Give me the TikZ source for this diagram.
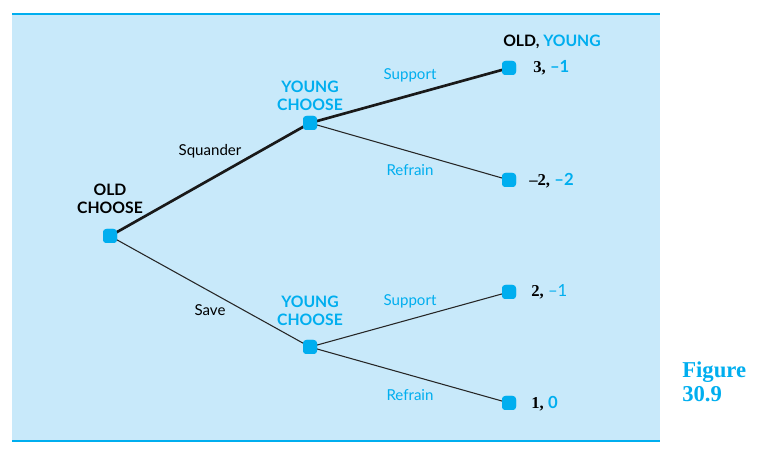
\documentclass[tikz,border=0pt]{standalone}
\usepackage{fontspec}
\setmainfont{Lato}
\newfontfamily\numfont{Liberation Serif}
\newfontfamily\figfont{Liberation Serif}
\definecolor{bgblue}{HTML}{C8E9FA}
\definecolor{cyanb}{HTML}{00AEEF}
\begin{document}
\begin{tikzpicture}[x=0.75pt,y=-0.75pt,
  dnode/.style={fill=cyanb,rounded corners=2.5pt,minimum width=10.5pt,minimum height=10.5pt,inner sep=0pt},
  lab/.style={font=\fontsize{11.3}{13}\selectfont,inner sep=0pt},
  head/.style={font=\fontsize{11.8}{13.5}\selectfont\bfseries,align=center,inner sep=0pt},
  pay/.style={font=\fontsize{12.5}{14}\selectfont,anchor=west,inner sep=0pt},
  strong/.style={line width=2pt,black!90},
  weak/.style={line width=0.8pt,black!85}]
\useasboundingbox (0,0) rectangle (758,456);
\fill[bgblue] (12,13) rectangle (660,442);
\draw[cyanb,line width=2.2pt] (12,14) -- (660,14);
\draw[cyanb,line width=2.2pt] (12,441) -- (660,441);
% nodes
\node[dnode] (r) at (110,236) {};
\node[dnode] (y1) at (310,123) {};
\node[dnode] (y2) at (310,347) {};
\node[dnode] (l1) at (509,68) {};
\node[dnode] (l2) at (509,180) {};
\node[dnode] (l3) at (509,292) {};
\node[dnode] (l4) at (509,403) {};
% edges
\draw[strong] (r.center) -- (y1.center);
\draw[strong] (y1.center) -- (l1.center);
\draw[weak] (y1.center) -- (l2.center);
\draw[weak] (r.center) -- (y2.center);
\draw[weak] (y2.center) -- (l3.center);
\draw[weak] (y2.center) -- (l4.center);
\foreach \n in {r,y1,y2,l1,l2,l3,l4}{\node[dnode] at (\n) {};}
% headings
\node[head,black] (hr) at (110,199) {OLD\\CHOOSE};
\node[head,cyanb] (hy1) at (310,96) {YOUNG\\CHOOSE};
\node[head,cyanb] (hy2) at (310,311) {YOUNG\\CHOOSE};
\node[head] (hh) at (552,42) {OLD, \textcolor{cyanb}{YOUNG}};
% edge labels
\node[lab,black] (ls) at (210,151) {Squander};
\node[lab,black] (lv) at (210,310) {Save};
\node[lab,cyanb] (lsu1) at (410,75) {Support};
\node[lab,cyanb] (lre1) at (410,170) {Refrain};
\node[lab,cyanb] (lsu2) at (410,301) {Support};
\node[lab,cyanb] (lre2) at (410,395) {Refrain};
% payoffs
\node[pay] (p1) at (533,68) {{\numfont\bfseries 3,} \textcolor{cyanb}{\bfseries –1}};
\node[pay] (p2) at (529,181) {{\numfont\bfseries –2,} \textcolor{cyanb}{\bfseries –2}};
\node[pay] (p3) at (531,292) {{\numfont\bfseries 2,} \textcolor{cyanb}{–1}};
\node[pay] (p4) at (531,404) {{\numfont\bfseries 1,} \textcolor{cyanb}{\bfseries 0}};
% figure label
\node[font=\figfont\bfseries\fontsize{17}{18}\selectfont,text=cyanb,align=left,anchor=west,inner sep=0pt] (fig) at (682,382) {Figure\\30.9};
\end{tikzpicture}
\end{document}
